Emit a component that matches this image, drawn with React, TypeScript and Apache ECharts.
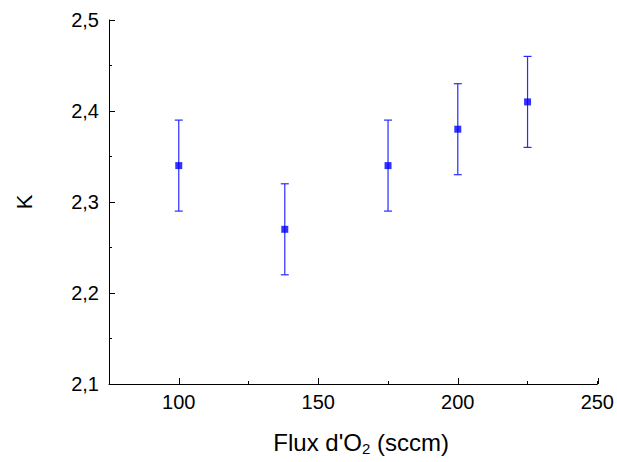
import React, { useEffect, useRef } from "react";
import * as echarts from "echarts";

const fluxValues = [100, 138, 175, 200, 225];
const kValues = [2.34, 2.27, 2.34, 2.38, 2.41];
const kErrors = [0.05, 0.05, 0.05, 0.05, 0.05];
const xMajorTicks = [100, 150, 200, 250];

const FONT = "Liberation Sans, Arial, sans-serif";
const GRID = { left: 109, right: 19, top: 20, bottom: 78, containLabel: false };

export default function App() {
  const ref = useRef<HTMLDivElement>(null);
  useEffect(() => {
    if (!ref.current) return;
    const chart = echarts.init(ref.current, undefined, { renderer: "svg" });
    const points = fluxValues.map((x, i) => [x, kValues[i]]);
    const bars = fluxValues.map((x, i) => [x, kValues[i] - kErrors[i], kValues[i] + kErrors[i]]);
    chart.setOption({
      animation: false,
      backgroundColor: "#ffffff",
      grid: [GRID, GRID],
      xAxis: [
        {
          type: "value",
          gridIndex: 0,
          min: 75,
          max: 250,
          interval: 25,
          position: "bottom",
          splitLine: { show: false },
          axisLine: { show: true, onZero: false, lineStyle: { color: "#000", width: 1 } },
          axisTick: { show: true, inside: true, length: 3, lineStyle: { color: "#000" } },
          axisLabel: {
            show: true,
            color: "#000",
            fontSize: 20,
            fontFamily: FONT,
            margin: 8,
            formatter: (v: number) => (v % 50 === 0 ? String(v) : ""),
          },
          name: "{a|Flux d'O}{s|2}{a| (sccm)}",
          nameLocation: "middle",
          nameGap: 45,
          nameTextStyle: {
            padding: [0, 0, 0, 16],
            rich: {
              a: { fontSize: 24, fontFamily: FONT, color: "#000" },
              s: { fontSize: 15, fontFamily: FONT, color: "#000", padding: [12, 0, 0, 0] },
            },
          },
        },
        {
          type: "value",
          gridIndex: 1,
          min: 75,
          max: 250,
          position: "bottom",
          offset: 0,
          splitLine: { show: false },
          axisLine: { show: false },
          axisTick: { show: true, inside: true, length: 6, customValues: xMajorTicks, lineStyle: { color: "#000" } },
          axisLabel: { show: false },
        },
      ],
      yAxis: [
        {
          type: "value",
          gridIndex: 0,
          min: 2.1,
          max: 2.5,
          interval: 0.1,
          splitLine: { show: false },
          axisLine: { show: true, onZero: false, lineStyle: { color: "#000", width: 1 } },
          axisTick: { show: true, inside: true, length: 6, lineStyle: { color: "#000" } },
          minorTick: { show: true, splitNumber: 2, length: 3, lineStyle: { color: "#000" } },
          axisLabel: {
            color: "#000",
            fontSize: 20,
            fontFamily: FONT,
            margin: 10,
            formatter: (v: number) => v.toFixed(1).replace(".", ","),
          },
          name: "K",
          nameLocation: "middle",
          nameRotate: 90,
          nameGap: 74,
          nameTextStyle: { fontSize: 22, fontFamily: FONT, color: "#000" },
        },
        {
          type: "value",
          gridIndex: 1,
          min: 2.1,
          max: 2.5,
          show: false,
        },
      ],
      series: [
        {
          type: "custom",
          xAxisIndex: 0,
          yAxisIndex: 0,
          data: bars,
          encode: { x: 0, y: [1, 2] },
          renderItem: (params: any, api: any) => {
            const x = api.value(0);
            const lo = api.coord([x, api.value(1)]);
            const hi = api.coord([x, api.value(2)]);
            const style = { stroke: "#2a2aff", lineWidth: 1.2 };
            return {
              type: "group",
              children: [
                { type: "line", shape: { x1: lo[0], y1: lo[1], x2: hi[0], y2: hi[1] }, style },
                { type: "line", shape: { x1: lo[0] - 4, y1: lo[1], x2: lo[0] + 4, y2: lo[1] }, style },
                { type: "line", shape: { x1: hi[0] - 4, y1: hi[1], x2: hi[0] + 4, y2: hi[1] }, style },
              ],
            };
          },
          z: 2,
        },
        {
          type: "scatter",
          xAxisIndex: 0,
          yAxisIndex: 0,
          data: points,
          symbol: "rect",
          symbolSize: 7,
          itemStyle: { color: "#0000ff" },
          z: 3,
        },
      ],
    });
    return () => chart.dispose();
  }, []);
  return <div ref={ref} style={{ width: 617, height: 462, position: "absolute", left: 0, top: 0 }} />;
}
